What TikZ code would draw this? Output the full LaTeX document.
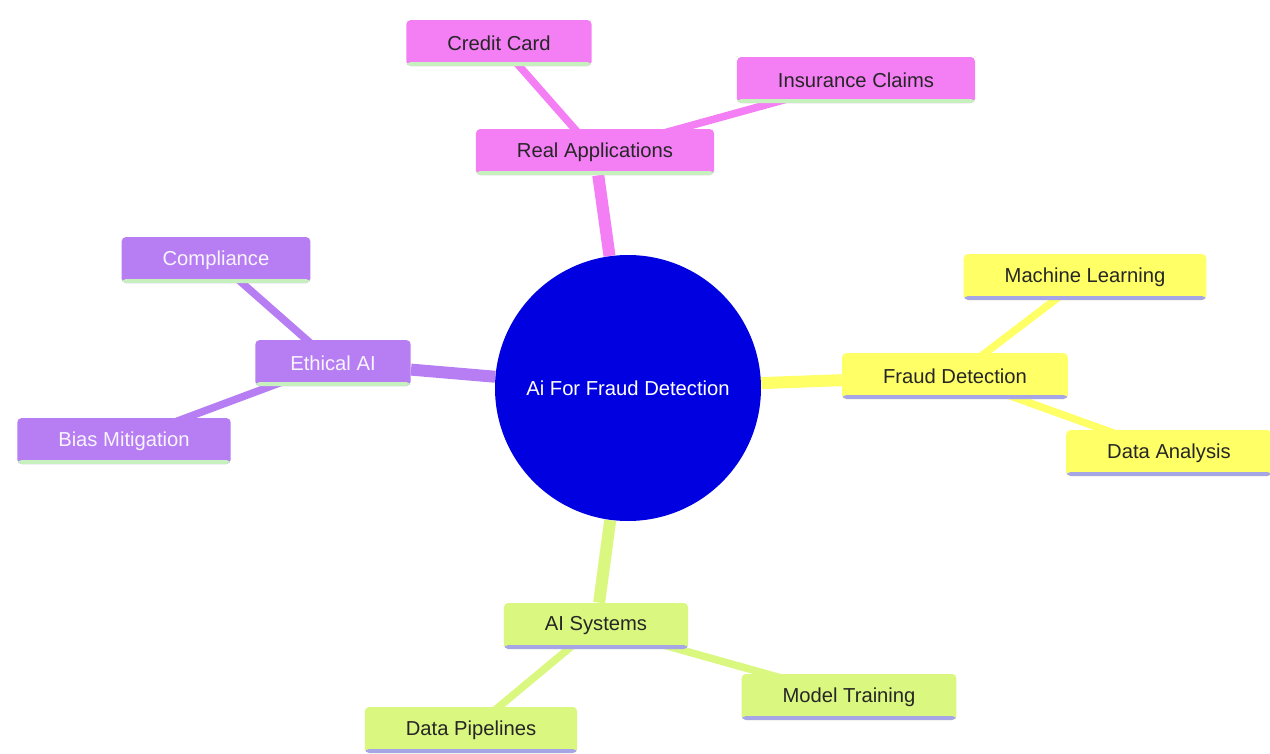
\documentclass[tikz,border=0pt]{standalone}
\usepackage{fontspec}
\setmainfont{Liberation Sans}
\usepackage{tikz}
\usetikzlibrary{shapes,positioning,backgrounds}

\definecolor{appsPink}{HTML}{F47EF4}
\definecolor{ethicsPurple}{HTML}{B67EF2}
\definecolor{fraudYellow}{HTML}{FFFF66}
\definecolor{systemsGreen}{HTML}{DAF780}
\definecolor{rootBlue}{HTML}{0000E0}
\definecolor{underLavender}{HTML}{A6A6E6}
\definecolor{underMint}{HTML}{C6F0BE}

\begin{document}
\begin{tikzpicture}[
    node distance=1cm, on grid,
    font=\fontsize{11.5}{14}\selectfont,
    topic/.style={rectangle, rounded corners=2.5pt, inner xsep=0.82cm, minimum height=0.92cm, text=black!85},
    underline/.style={path picture={\fill[#1] ([yshift=0.08cm]path picture bounding box.south west) rectangle (path picture bounding box.south east);}},
    pinkbox/.style={topic, fill=appsPink, underline=underMint},
    purplebox/.style={topic, fill=ethicsPurple, underline=underMint, text=white!92!ethicsPurple},
    yellowbox/.style={topic, fill=fraudYellow, underline=underLavender},
    greenbox/.style={topic, fill=systemsGreen, underline=underLavender},
    trunk/.style={line width=0.24cm},
    twig/.style={line width=0.15cm}
]
    \useasboundingbox (-12.56,-7.30) rectangle (12.84,7.76);

    % centre
    \node[circle, fill=rootBlue, minimum size=5.32cm, inner sep=0pt, text=white] (root) {Ai For Fraud Detection};

    % branches
    \node[pinkbox, above left=4.72cm and 0.66cm of root] (apps) {Real Applications};
    \node[pinkbox, above left=2.18cm and 1.92cm of apps] (credit) {Credit Card};
    \node[pinkbox, above right=1.44cm and 5.22cm of apps] (insurance) {Insurance Claims};

    \node[purplebox, above left=0.5cm and 5.9cm of root, inner xsep=0.7cm] (ethics) {Ethical AI};
    \node[purplebox, above left=2.06cm and 2.34cm of ethics] (compliance) {Compliance};
    \node[purplebox, below left=1.56cm and 4.18cm of ethics] (bias) {Bias Mitigation};

    \node[yellowbox, above right=0.24cm and 6.54cm of root] (fraud) {Fraud Detection};
    \node[yellowbox, above right=1.98cm and 2.6cm of fraud] (ml) {Machine Learning};
    \node[yellowbox, below right=1.54cm and 4.28cm of fraud] (analysis) {Data Analysis};

    \node[greenbox, below left=4.76cm and 0.64cm of root] (systems) {AI Systems};
    \node[greenbox, below right=1.42cm and 5.06cm of systems] (training) {Model Training};
    \node[greenbox, below left=2.08cm and 2.5cm of systems] (pipelines) {Data Pipelines};

    \begin{scope}[on background layer]
        \draw[trunk, appsPink] (root) -- (apps);
        \draw[twig, appsPink] (apps.center) -- (credit.center);
        \draw[twig, appsPink] (apps.center) -- (insurance.center);

        \draw[trunk, ethicsPurple] (root) -- (ethics);
        \draw[twig, ethicsPurple] (ethics.center) -- (compliance.center);
        \draw[twig, ethicsPurple] (ethics.center) -- (bias.center);

        \draw[trunk, fraudYellow] (root) -- (fraud);
        \draw[twig, fraudYellow] (fraud.center) -- (ml.center);
        \draw[twig, fraudYellow] (fraud.center) -- (analysis.center);

        \draw[trunk, systemsGreen] (root) -- (systems);
        \draw[twig, systemsGreen] (systems.center) -- (training.center);
        \draw[twig, systemsGreen] (systems.center) -- (pipelines.center);
    \end{scope}
\end{tikzpicture}
\end{document}
